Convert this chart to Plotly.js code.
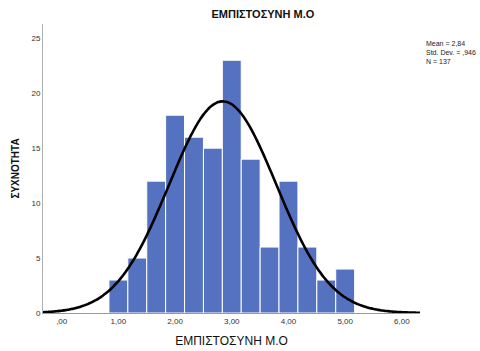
<!DOCTYPE html>
<html><head><meta charset="utf-8">
<script src="https://cdn.plot.ly/plotly-3.0.1.min.js"></script>
<style>html,body{margin:0;padding:0;background:#fff}#chart{width:480px;height:351px}</style>
</head><body><div id="chart"></div>
<script>
// Histogram bins (centre of each bin) and frequencies
const binCenters = [1.0, 1.3333, 1.6667, 2.0, 2.3333, 2.6667, 3.0, 3.3333, 3.6667, 4.0, 4.3333, 4.6667, 5.0];
const binWidth = 1/3;
const counts = [3, 5, 12, 18, 16, 15, 23, 14, 6, 12, 6, 3, 4];
// Summary statistics shown on the chart
const meanVal = 2.84;
const sdVal = 0.946;
const nVal = 137;
const xTickVals = [0, 1, 2, 3, 4, 5, 6];
const xTickText = [",00", "1,00", "2,00", "3,00", "4,00", "5,00", "6,00"];
const yTickVals = [0, 5, 10, 15, 20, 25];
const xRange = [-0.33, 6.32];

// Fitted normal curve (from mean, SD and N)
const curveX = [], curveY = [];
for (let i = 0; i <= 200; i++) {
  const x = xRange[0] + (xRange[1] - xRange[0]) * i / 200;
  const z = (x - meanVal) / sdVal;
  curveX.push(x);
  curveY.push(nVal * binWidth * Math.exp(-0.5 * z * z) / (sdVal * Math.sqrt(2 * Math.PI)));
}

const traces = [
  {type: 'bar', x: binCenters, y: counts, width: binWidth,
   marker: {color: '#5472BF', line: {color: '#ffffff', width: 1}}, hoverinfo: 'none'},
  {type: 'scatter', mode: 'lines', x: curveX, y: curveY,
   line: {color: '#000000', width: 2.6, shape: 'spline'}, hoverinfo: 'none'}
];

const layout = {
  width: 480, height: 351,
  margin: {l: 43, r: 60, t: 24, b: 38},
  paper_bgcolor: '#ffffff', plot_bgcolor: '#ffffff',
  showlegend: false,
  font: {family: 'Liberation Sans, Arial, sans-serif', color: '#333333', size: 8},
  title: {text: '<b>ΕΜΠΙΣΤΟΣΥΝΗ Μ.Ο</b>', font: {size: 11, color: '#111111'},
          x: 280/480, xref: 'paper', xanchor: 'center', y: 1 - 14/351, yanchor: 'middle'},
  xaxis: {range: xRange, tickvals: xTickVals, ticktext: xTickText,
          showgrid: false, zeroline: false, showline: true, linecolor: '#9a9a9a', linewidth: 1,
          ticks: '', ticklen: 0, tickfont: {size: 8, color: '#333333'},
          title: {text: 'ΕΜΠΙΣΤΟΣΥΝΗ Μ.Ο', font: {size: 12, color: '#111111'}, standoff: 12}},
  yaxis: {range: [0, 26.3], tickvals: yTickVals,
          showgrid: false, zeroline: false, showline: true, linecolor: '#b0b0b0', linewidth: 1,
          ticks: '', tickfont: {size: 8, color: '#333333'},
          title: {text: '<b>ΣΥΧΝΟΤΗΤΑ</b>', font: {size: 10, color: '#111111'}, standoff: 9}},
  annotations: [{
    xref: 'paper', yref: 'paper', x: 1.01, y: 1 - (38 - 24) / 289, xanchor: 'left', yanchor: 'top',
    align: 'left', showarrow: false,
    text: 'Mean = ' + meanVal.toFixed(2).replace('.', ',') + '<br>Std. Dev. = ' + sdVal.toFixed(3).replace('0.', ',') + '<br>N = ' + nVal,
    font: {size: 7, color: '#222222'}
  }]
};

Plotly.newPlot('chart', traces, layout, {displayModeBar: false, staticPlot: true});
</script></body></html>
